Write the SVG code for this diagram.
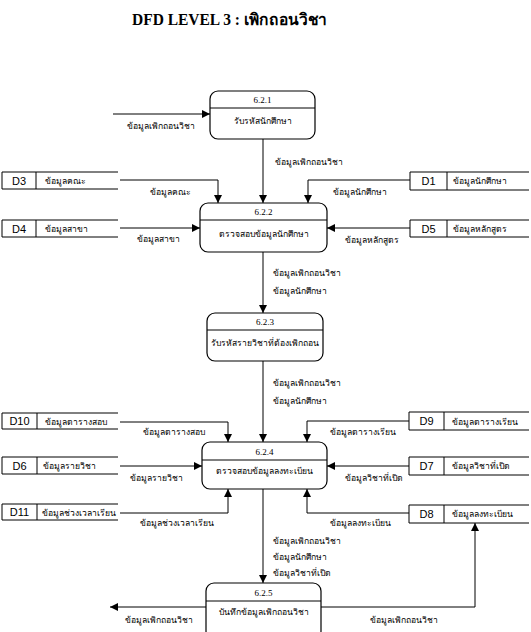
<svg xmlns="http://www.w3.org/2000/svg" width="531" height="632" viewBox="0 0 531 632">
<style>
.bg{fill:#fff}
.title{font-family:"Liberation Serif",serif;font-size:16px;font-weight:bold;fill:#000}
.proc{fill:#fff;stroke:#000;stroke-width:1.2}
.div{stroke:#000;stroke-width:1}
.num{font-family:"Liberation Serif",serif;font-size:9px;fill:#000;text-anchor:middle}
.pname{font-family:"Liberation Serif",serif;font-size:8.6px;fill:#000;text-anchor:middle}
.st{fill:none;stroke:#000;stroke-width:1}
.sid{font-family:"Liberation Sans",sans-serif;font-size:11px;fill:#000;text-anchor:middle}
.stxt{font-family:"Liberation Serif",serif;font-size:8.6px;fill:#000}
.lbl{font-family:"Liberation Serif",serif;font-size:8.6px;fill:#000}
.c{fill:none;stroke:#000;stroke-width:1}
</style>
<defs>
<marker id="ah" viewBox="0 0 10 10" refX="10" refY="5" markerWidth="8" markerHeight="8" markerUnits="userSpaceOnUse" orient="auto">
<path d="M0,0 L10,5 L0,10 z" fill="#000"/>
</marker>
</defs>
<rect class="bg" x="0" y="0" width="531" height="632"/>
<text class="title" x="132" y="25" textLength="195" lengthAdjust="spacingAndGlyphs">DFD LEVEL 3 : เพิกถอนวิชา</text>

<g id="p621">
<rect class="proc" x="210" y="91" width="105" height="48" rx="8"/>
<line class="div" x1="210" y1="108" x2="315" y2="108"/>
<text class="num" x="262.5" y="103">6.2.1</text>
<text class="pname" x="262.5" y="124">รับรหัสนักศึกษา</text>
</g>
<g id="p622">
<rect class="proc" x="200" y="203" width="127" height="49" rx="8"/>
<line class="div" x1="200" y1="220" x2="327" y2="220"/>
<text class="num" x="263.5" y="215">6.2.2</text>
<text class="pname" x="263.5" y="237">ตรวจสอบข้อมูลนักศึกษา</text>
</g>
<g id="p623">
<rect class="proc" x="207" y="313" width="116" height="48" rx="8"/>
<line class="div" x1="207" y1="330" x2="323" y2="330"/>
<text class="num" x="265" y="325">6.2.3</text>
<text class="pname" x="265" y="346">รับรหัสรายวิชาที่ต้องเพิกถอน</text>
</g>
<g id="p624">
<rect class="proc" x="202" y="442" width="125" height="47" rx="8"/>
<line class="div" x1="202" y1="460" x2="327" y2="460"/>
<text class="num" x="264.5" y="455">6.2.4</text>
<text class="pname" x="264.5" y="474">ตรวจสอบข้อมูลลงทะเบียน</text>
</g>
<g id="p625">
<rect class="proc" x="206" y="583" width="115" height="56" rx="8"/>
<line class="div" x1="206" y1="601" x2="321" y2="601"/>
<text class="num" x="263.5" y="596">6.2.5</text>
<text class="pname" x="263.5" y="615">บันทึกข้อมูลเพิกถอนวิชา</text>
</g>

<g id="D3">
<path class="st" d="M118,172 H2 V189 H118 M36,172 V189"/>
<text class="sid" x="19" y="185">D3</text>
<text class="stxt" x="45" y="184">ข้อมูลคณะ</text>
</g>
<g id="D4">
<path class="st" d="M118,220 H2 V237 H118 M36,220 V237"/>
<text class="sid" x="19" y="233">D4</text>
<text class="stxt" x="45" y="232">ข้อมูลสาขา</text>
</g>
<g id="D1">
<path class="st" d="M529,172 H410 V190 H529 M447,172 V190"/>
<text class="sid" x="428.5" y="185">D1</text>
<text class="stxt" x="453" y="184">ข้อมูลนักศึกษา</text>
</g>
<g id="D5">
<path class="st" d="M529,220 H410 V237 H529 M447,220 V237"/>
<text class="sid" x="428.5" y="233">D5</text>
<text class="stxt" x="453" y="232">ข้อมูลหลักสูตร</text>
</g>
<g id="D10">
<path class="st" d="M118,413 H2 V429 H118 M37,413 V429"/>
<text class="sid" x="19.5" y="425">D10</text>
<text class="stxt" x="45" y="425">ข้อมูลตารางสอบ</text>
</g>
<g id="D6">
<path class="st" d="M118,457 H2 V474 H118 M37,457 V474"/>
<text class="sid" x="19.5" y="470">D6</text>
<text class="stxt" x="43" y="469">ข้อมูลรายวิชา</text>
</g>
<g id="D11">
<path class="st" d="M118,504 H2 V520 H118 M37,504 V520"/>
<text class="sid" x="19.5" y="516">D11</text>
<text class="stxt" x="42" y="516">ข้อมูลช่วงเวลาเรียน</text>
</g>
<g id="D9">
<path class="st" d="M529,412 H409 V430 H529 M444,412 V430"/>
<text class="sid" x="426.5" y="425">D9</text>
<text class="stxt" x="452" y="425">ข้อมูลตารางเรียน</text>
</g>
<g id="D7">
<path class="st" d="M529,457 H409 V475 H529 M444,457 V475"/>
<text class="sid" x="426.5" y="470">D7</text>
<text class="stxt" x="452" y="469">ข้อมูลวิชาที่เปิด</text>
</g>
<g id="D8">
<path class="st" d="M529,505 H409 V523 H529 M444,505 V523"/>
<text class="sid" x="426.5" y="518">D8</text>
<text class="stxt" x="452" y="517">ข้อมูลลงทะเบียน</text>
</g>

<g id="connectors">
<path class="c" d="M113,114 H210" marker-end="url(#ah)"/>
<path class="c" d="M263,139 V203" marker-end="url(#ah)"/>
<path class="c" d="M120,180 H218 V203" marker-end="url(#ah)"/>
<path class="c" d="M120,228 H200" marker-end="url(#ah)"/>
<path class="c" d="M410,180 H308 V203" marker-end="url(#ah)"/>
<path class="c" d="M410,228 H327" marker-end="url(#ah)"/>
<path class="c" d="M263,252 V313" marker-end="url(#ah)"/>
<path class="c" d="M263,361 V442" marker-end="url(#ah)"/>
<path class="c" d="M120,422 H228 V442" marker-end="url(#ah)"/>
<path class="c" d="M120,466 H202" marker-end="url(#ah)"/>
<path class="c" d="M120,513 H228 V489" marker-end="url(#ah)"/>
<path class="c" d="M409,421 H307 V442" marker-end="url(#ah)"/>
<path class="c" d="M409,466 H327" marker-end="url(#ah)"/>
<path class="c" d="M409,513 H307 V489" marker-end="url(#ah)"/>
<path class="c" d="M263,489 V583" marker-end="url(#ah)"/>
<path class="c" d="M206,607 H110" marker-end="url(#ah)"/>
<path class="c" d="M321,607 H475 V523" marker-end="url(#ah)"/>

<text class="lbl" x="127" y="129">ข้อมูลเพิกถอนวิชา</text>
<text class="lbl" x="275" y="165">ข้อมูลเพิกถอนวิชา</text>
<text class="lbl" x="150" y="195">ข้อมูลคณะ</text>
<text class="lbl" x="137" y="242">ข้อมูลสาขา</text>
<text class="lbl" x="333" y="195">ข้อมูลนักศึกษา</text>
<text class="lbl" x="345" y="243">ข้อมูลหลักสูตร</text>
<text class="lbl" x="273" y="276">ข้อมูลเพิกถอนวิชา</text>
<text class="lbl" x="273" y="294">ข้อมูลนักศึกษา</text>
<text class="lbl" x="273" y="386">ข้อมูลเพิกถอนวิชา</text>
<text class="lbl" x="273" y="404">ข้อมูลนักศึกษา</text>
<text class="lbl" x="143" y="435">ข้อมูลตารางสอบ</text>
<text class="lbl" x="130" y="481">ข้อมูลรายวิชา</text>
<text class="lbl" x="140" y="526">ข้อมูลช่วงเวลาเรียน</text>
<text class="lbl" x="330" y="435">ข้อมูลตารางเรียน</text>
<text class="lbl" x="345" y="481">ข้อมูลวิชาที่เปิด</text>
<text class="lbl" x="330" y="526">ข้อมูลลงทะเบียน</text>
<text class="lbl" x="273" y="544">ข้อมูลเพิกถอนวิชา</text>
<text class="lbl" x="273" y="560">ข้อมูลนักศึกษา</text>
<text class="lbl" x="273" y="576">ข้อมูลวิชาที่เปิด</text>
<text class="lbl" x="125" y="623">ข้อมูลเพิกถอนวิชา</text>
<text class="lbl" x="370" y="623">ข้อมูลเพิกถอนวิชา</text>
</g>
</svg>
